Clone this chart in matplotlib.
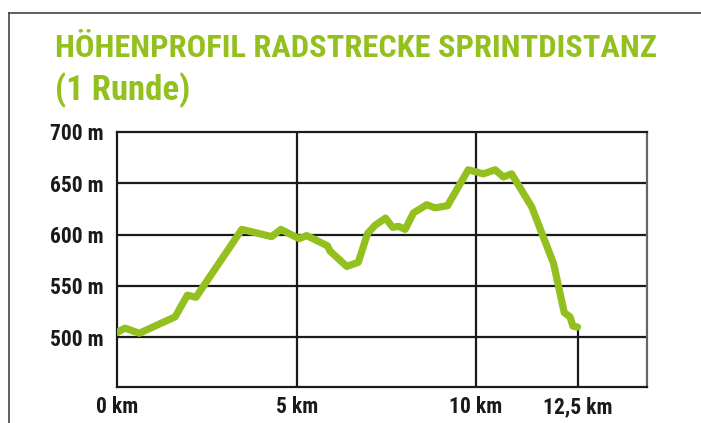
import matplotlib
matplotlib.use("Agg")
import matplotlib.pyplot as plt
from matplotlib.lines import Line2D

# Höhenprofil, Werte
dist = [0.0, 0.21, 0.61, 1.61, 1.95, 2.19, 3.47, 4.30, 4.56, 5.07, 5.28, 5.86, 5.93,
        6.40, 6.72, 6.98, 7.19, 7.48, 7.68, 7.84, 8.03, 8.26, 8.63, 8.86, 9.21,
        9.79, 10.21, 10.54, 10.77, 11.00, 11.56, 12.17, 12.47, 12.63, 12.71, 12.84]
elev = [505, 509, 504, 520, 541, 539, 605, 598, 605, 596, 599, 589, 584,
        569, 573, 601, 609, 616, 607, 608, 605, 621, 629, 626, 628,
        663, 659, 663, 656, 659, 627, 572, 524, 520, 511, 510]

y_ticks = [500, 550, 600, 650, 700]
y_labels = ['500 m', '550 m', '600 m', '650 m', '700 m']
x_labels = ['0 km', '5 km', '10 km', '12,5 km']

green = '#93c01f'
font = ['Roboto Condensed', 'Liberation Sans Narrow', 'DejaVu Sans']

fig = plt.figure(figsize=(7.01, 4.23), dpi=100)
ax = fig.add_axes([0.1676, 0.0858, 0.7549, 0.6028])

ax.set_xlim(0, 14.77)
ax.set_ylim(452, 700)

# Gitter
for y in y_ticks[:-1]:
    ax.axhline(y, color='#1a1a1a', lw=1.6, zorder=1)
for x in [5, 10]:
    ax.axvline(x, color='#1a1a1a', lw=1.6, zorder=1)
ax.vlines(dist[-1], 452, elev[-1], color='#1a1a1a', lw=1.6, zorder=1)

ax.plot(dist, elev, color=green, lw=5.2, solid_capstyle='round',
        solid_joinstyle='round', zorder=3)

ax.set_yticks(y_ticks)
ax.set_yticklabels(y_labels, family=font, stretch='condensed', weight='bold',
                   fontsize=15.5, color='#1a1a1a')
ax.set_xticks([0, 5, 10, dist[-1]])
ax.set_xticklabels(x_labels, family=font, stretch='condensed', weight='bold',
                   fontsize=15.5, color='#1a1a1a')
ax.tick_params(axis='x', length=0, pad=7)
ax.tick_params(axis='y', length=0, pad=10)

for s in ['left', 'bottom', 'top']:
    ax.spines[s].set_color('#1a1a1a')
    ax.spines[s].set_linewidth(1.6)
ax.spines['right'].set_color('#666666')
ax.spines['right'].set_linewidth(1.6)

fig.text(55 / 701, 1 - 56.7 / 423, 'HÖHENPROFIL RADSTRECKE SPRINTDISTANZ',
         family=font, stretch='condensed', weight='bold', fontsize=23.3,
         color=green, va='baseline')
fig.text(55 / 701, 1 - 100 / 423, '(1 Runde)',
         family=font, stretch='condensed', weight='bold', fontsize=25,
         color=green, va='baseline')

# Rahmen oben und links
fig.add_artist(Line2D([9 / 701, 9 / 701], [0, 1 - 13 / 423], color='#444444', lw=1.2))
fig.add_artist(Line2D([9 / 701, 1], [1 - 13 / 423, 1 - 13 / 423], color='#444444', lw=1.2))

fig.savefig('out.png', dpi=100)
